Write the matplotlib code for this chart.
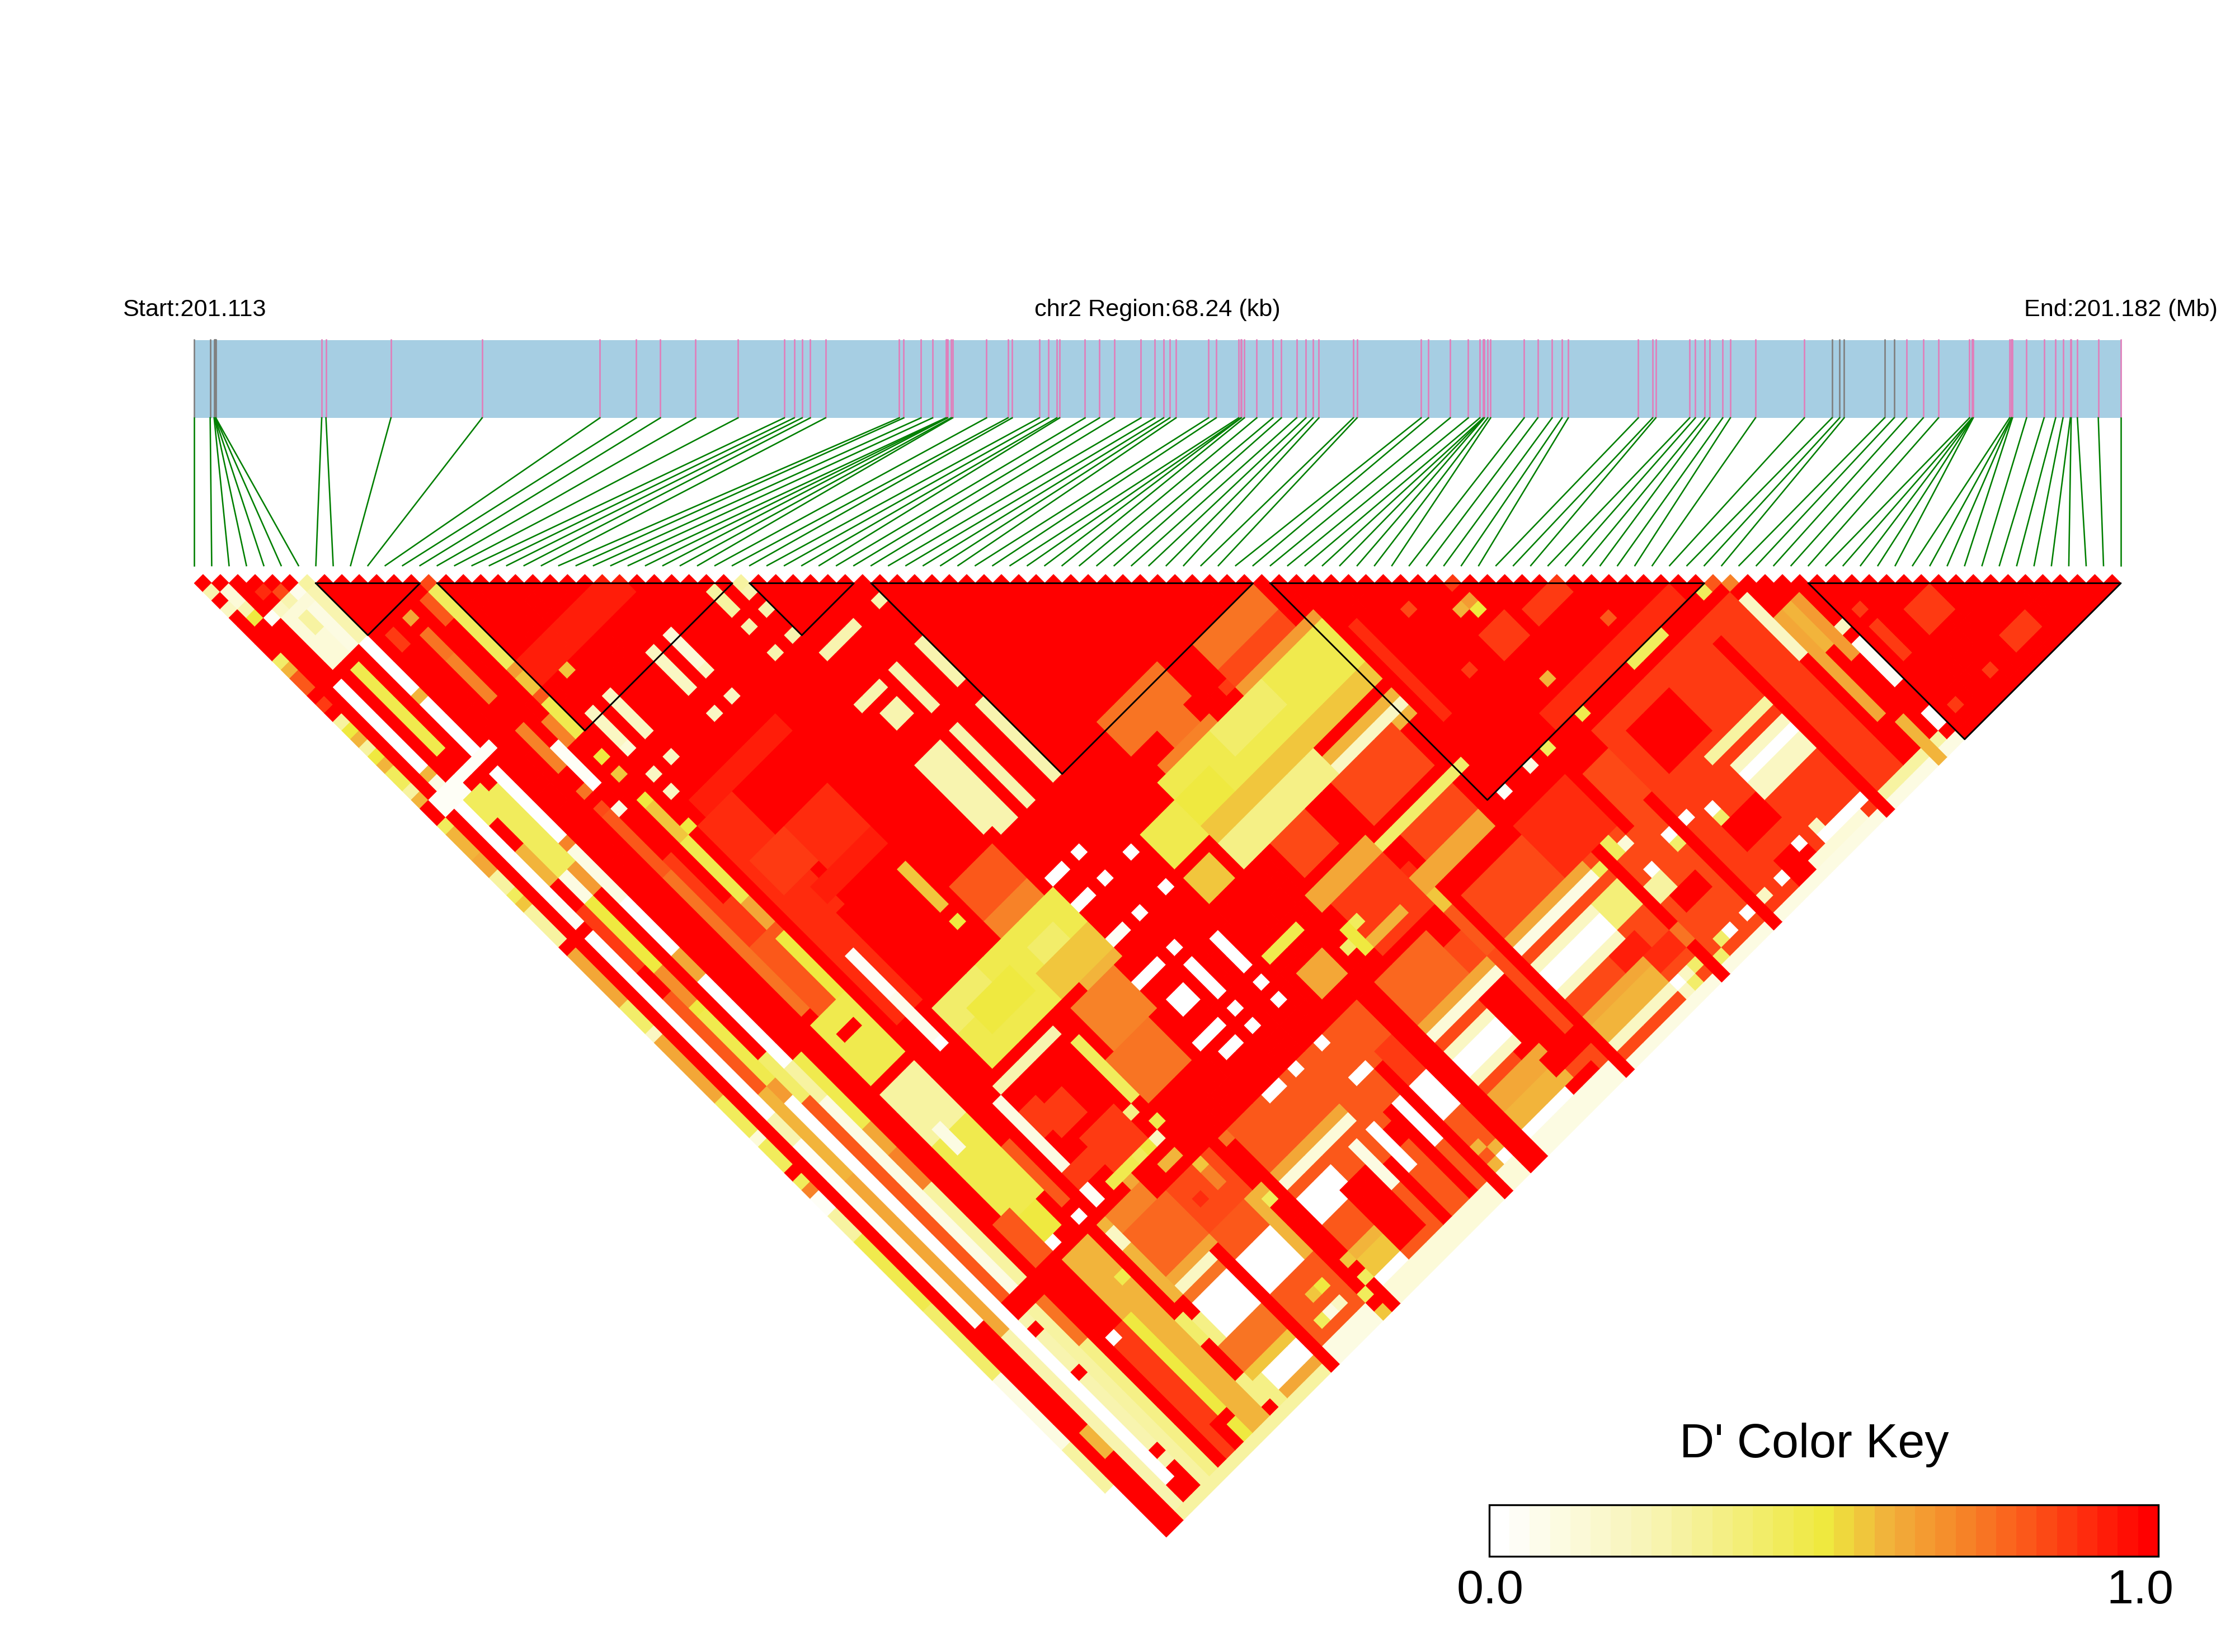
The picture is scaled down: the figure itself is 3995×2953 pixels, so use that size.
import numpy as np
import matplotlib
matplotlib.use("Agg")
import matplotlib.pyplot as plt
from matplotlib.collections import PolyCollection
from matplotlib.colors import LinearSegmentedColormap, BoundaryNorm
from matplotlib.patches import Rectangle

plt.rcParams["font.family"] = ["Liberation Sans", "DejaVu Sans"]

# SNP positions along the region, kb from the start
snp_kb = [0.00, 0.56, 0.70, 0.72, 0.73, 0.75, 0.76, 4.51, 4.66, 6.96, 10.19, 14.36, 15.65, 16.50, 17.75, 19.25,
          20.89, 21.24, 21.52, 21.81, 22.35, 24.96, 25.12, 25.73, 26.14, 26.61, 26.64, 26.67, 26.80, 26.85,
          28.05, 28.81, 28.96, 29.92, 30.25, 30.54, 30.64, 31.54, 32.05, 32.58, 33.52, 34.01, 34.32, 34.54,
          34.76, 35.91, 36.18, 36.98, 37.06, 37.07, 37.18, 37.62, 38.19, 38.49, 39.03, 39.36, 39.61, 39.82,
          41.04, 41.17, 43.44, 43.70, 44.47, 45.11, 45.52, 45.64, 45.66, 45.68, 45.80, 45.90, 47.09, 47.57,
          48.08, 48.43, 48.65, 51.13, 51.64, 51.75, 52.95, 53.15, 53.48, 53.65, 54.12, 54.39, 55.28, 57.01,
          57.99, 58.26, 58.42, 59.85, 60.19, 60.63, 61.22, 61.76, 62.86, 62.95, 62.96, 62.98, 62.99, 64.28,
          64.34, 64.35, 64.38, 64.88, 65.50, 65.91, 66.17, 66.43, 66.46, 66.68, 67.42, 68.22]
gray_snps = [0, 1, 2, 3, 4, 5, 6, 86, 87, 88, 89, 90]

block_start = [7, 14, 32, 39, 62, 93]
block_end = [13, 31, 38, 61, 87, 111]

# D': first SNP range, second SNP range, value (later rows paint over earlier ones)
base_areas = [
    (45, 53, 94, 111, .82), (55, 71, 92, 111, .82), (72, 87, 90, 111, .85), (21, 42, 92, 111, .8),
    (3, 5, 92, 105, .3), (11, 13, 90, 111, .5), (14, 15, 90, 111, .35), (16, 19, 90, 99, .7), (16, 19, 104, 111, .75),
    (6, 7, 63, 95, .2), (3, 5, 63, 90, .62), (7, 9, 96, 111, .3),
]
corner_cells = [
    (0, 0, 2, 2, .25), (1, 1, 3, 3, .15), (3, 3, 5, 5, .88), (4, 4, 6, 6, .82), (5, 5, 7, 7, .08), (6, 6, 7, 7, .3),
    (1, 1, 4, 4, .15), (0, 0, 4, 4, .2), (1, 1, 5, 5, .25), (1, 1, 6, 6, .5), (4, 4, 7, 7, .25), (3, 3, 7, 7, .2),
    (2, 2, 7, 7, .05), (3, 5, 8, 13, .15), (6, 6, 8, 13, .25), (4, 4, 9, 10, .3), (5, 5, 9, 13, .1),
]
left_edge = [
    (0, 0, 10, 10, .4), (0, 0, 11, 11, .6), (0, 0, 12, 13, .8), (0, 0, 15, 15, .85), (0, 0, 17, 17, .3), (0, 0, 18, 18, .5),
    (0, 0, 19, 19, .6), (0, 0, 20, 20, .3), (0, 0, 21, 21, .5), (0, 0, 22, 22, .6), (0, 0, 23, 24, .45), (0, 0, 25, 25, .3),
    (0, 0, 26, 26, .6), (0, 0, 29, 29, .45), (0, 0, 30, 32, .6), (0, 0, 33, 34, .62), (0, 0, 35, 36, .3), (0, 0, 37, 37, .45),
    (0, 0, 38, 38, .55), (0, 0, 39, 42, .3), (0, 0, 44, 50, .62), (0, 0, 50, 52, .42), (0, 0, 53, 53, .2), (0, 0, 54, 60, .62),
    (0, 0, 61, 64, .45), (0, 0, 65, 65, .15), (0, 0, 66, 68, .45), (0, 0, 70, 70, .45), (0, 0, 71, 71, .7), (0, 0, 72, 73, .05),
    (0, 0, 74, 76, .3), (0, 0, 77, 84, .47), (0, 0, 85, 92, .42), (0, 0, 93, 100, .1), (0, 0, 101, 105, .3), (0, 0, 106, 111, .02),
]
low_i_bands = [
    (2, 2, 15, 24, .03), (2, 2, 25, 25, .6), (2, 2, 26, 28, .1), (2, 2, 29, 39, .02), (2, 2, 40, 42, .05), (2, 2, 44, 64, .02),
    (2, 2, 65, 67, .25), (2, 2, 68, 88, .06), (3, 3, 29, 31, .45), (3, 3, 35, 38, .6), (3, 3, 42, 48, .85), (3, 3, 52, 62, .8),
    (3, 3, 63, 72, .6), (3, 3, 73, 90, .63), (4, 4, 15, 24, .48), (4, 4, 29, 38, .45), (4, 4, 39, 41, .1), (4, 4, 42, 50, .5),
    (4, 4, 50, 53, .68), (4, 4, 54, 54, .5), (4, 4, 55, 62, .47), (4, 4, 63, 64, .65), (4, 4, 65, 90, .03), (5, 5, 30, 38, .45),
    (5, 5, 39, 41, .65), (5, 5, 44, 60, 1), (5, 5, 61, 65, .4), (5, 5, 66, 90, .8), (6, 6, 14, 19, 0), (6, 6, 20, 20, .6),
    (6, 6, 21, 26, 0), (6, 6, 29, 36, .03), (6, 6, 37, 37, .7), (6, 6, 38, 43, .1), (6, 6, 44, 49, 0), (6, 6, 50, 52, .62),
    (6, 6, 53, 53, 0), (6, 6, 54, 62, .02), (6, 6, 63, 66, .3), (6, 6, 67, 88, .1), (7, 7, 29, 33, .97), (7, 7, 44, 62, 1),
    (7, 7, 63, 70, .47), (7, 7, 71, 73, .62), (7, 7, 74, 77, .72), (7, 7, 78, 88, .3), (7, 7, 91, 95, .75),
    (1, 7, 27, 27, .05), (1, 3, 28, 28, .05), (8, 9, 52, 96, 1), (8, 8, 97, 111, 1), (9, 9, 97, 111, .85), (10, 10, 97, 107, .85),
    (3, 3, 91, 111, .25), (4, 4, 91, 108, .02), (5, 5, 91, 108, .25), (6, 6, 91, 111, .3), (7, 7, 96, 111, .35), (2, 2, 101, 103, .6),
    (5, 7, 89, 90, 1), (5, 5, 92, 92, 1), (5, 5, 97, 97, 1), (5, 5, 106, 106, 1), (5, 5, 108, 108, 1), (1, 2, 89, 100, 1),
    (2, 2, 104, 105, 1), (1, 1, 101, 111, 1),
]
mid_i_bands = [
    (13, 13, 14, 14, .85), (13, 13, 15, 23, .45), (13, 13, 24, 24, .65), (13, 13, 25, 26, .55), (13, 13, 27, 27, .8),
    (13, 13, 28, 31, .48), (13, 13, 34, 34, .5), (13, 13, 36, 36, .55), (13, 13, 39, 39, .5), (13, 13, 40, 43, .55),
    (13, 13, 44, 50, .48), (13, 13, 51, 53, .62), (13, 13, 54, 63, .5), (11, 11, 31, 34, .05),
    (11, 11, 35, 35, .02), (11, 11, 38, 38, .1), (10, 10, 15, 15, .62), (10, 10, 17, 19, .75), (10, 10, 20, 24, .72),
    (10, 10, 28, 32, .72), (10, 10, 35, 35, .75), (10, 10, 37, 37, .82), (10, 10, 38, 44, .8), (10, 10, 45, 60, .75),
    (12, 12, 15, 17, .8), (12, 12, 29, 31, .72), (8, 8, 15, 16, .85), (11, 11, 44, 50, .85), (11, 12, 50, 53, .85),
    (11, 13, 54, 54, .8), (11, 12, 54, 61, .8), (15, 18, 44, 56, .88), (16, 19, 49, 52, .85), (15, 17, 55, 66, .88),
    (14, 24, 24, 26, .93), (16, 16, 27, 27, .55), (16, 25, 42, 43, .92), (20, 24, 49, 53, .9), (18, 24, 54, 55, .92),
    (26, 30, 62, 65, .8), (26, 30, 66, 67, .72), (24, 24, 58, 62, .55), (24, 24, 64, 64, .5),
    (10, 13, 62, 68, .47), (11, 12, 64, 64, 1), (9, 15, 69, 69, 1), (10, 13, 70, 75, .3), (10, 13, 76, 84, .47), (11, 11, 75, 77, .12),
    (10, 12, 85, 87, .5), (9, 10, 84, 88, .8), (14, 14, 70, 79, 1), (14, 14, 80, 86, .8), (14, 14, 87, 99, 1), (15, 15, 99, 100, 1),
    (16, 16, 60, 65, .05), (16, 16, 65, 69, .08), (16, 16, 70, 70, .02), (18, 31, 68, 74, .46), (26, 31, 72, 74, .55),
    (18, 22, 68, 70, .4), (20, 24, 70, 72, .5), (27, 29, 70, 71, .4), (17, 23, 77, 84, 1),
    (18, 20, 80, 82, .85), (17, 23, 76, 76, .25), (17, 23, 85, 85, .35), (24, 24, 78, 84, .45), (16, 16, 77, 85, .12), (16, 16, 85, 88, .05),
    (17, 18, 79, 81, .85), (26, 30, 76, 80, .72), (25, 29, 81, 85, .75), (28, 31, 75, 75, .6), (15, 15, 40, 40, .2), (14, 14, 43, 43, .5),
    (19, 22, 84, 87, .85), (16, 19, 85, 86, .85), (18, 20, 88, 88, .47), (19, 19, 89, 89, .62), (24, 24, 87, 87, .47),
    (23, 23, 88, 88, .2), (22, 22, 88, 88, .5), (21, 21, 88, 88, .45), (22, 23, 90, 90, .6),
    (13, 13, 88, 88, 1), (12, 12, 88, 88, 1), (14, 14, 88, 88, 0), (11, 11, 88, 88, 0), (8, 14, 89, 89, 1),
]
lattice_spots = [
    (38, 38, 41, 41, .25), (35, 35, 41, 41, .25), (32, 34, 41, 41, .25), (31, 31, 38, 38, .25), (29, 29, 38, 38, .25),
    (31, 31, 33, 33, .25), (31, 31, 35, 35, .25), (29, 29, 35, 35, .25), (29, 29, 31, 33, .3), (24, 24, 31, 34, .15),
    (22, 22, 31, 34, .2), (24, 24, 35, 35, .2), (22, 22, 35, 35, .2), (24, 24, 38, 38, .2), (22, 22, 38, 38, .2),
    (17, 17, 31, 34, .2), (15, 15, 31, 34, .2), (17, 17, 35, 35, .2), (15, 15, 35, 35, .15), (17, 17, 38, 38, .2), (15, 15, 38, 38, .2),
    (38, 38, 46, 46, .25), (35, 35, 46, 46, .25), (38, 38, 47, 50, .25), (35, 35, 47, 50, .25), (31, 33, 46, 46, .25),
    (32, 33, 48, 49, .25), (38, 38, 53, 53, .25), (35, 35, 53, 53, .25), (38, 38, 54, 60, .25), (31, 33, 53, 53, .25),
    (35, 35, 54, 60, .25), (38, 38, 61, 61, .25), (31, 33, 54, 60, .27), (35, 35, 61, 61, .25), (32, 33, 61, 61, .25),
    (35, 35, 67, 67, 0), (32, 33, 67, 67, 0), (38, 38, 70, 70, 0), (35, 35, 70, 70, 0), (32, 33, 70, 70, 0), (35, 35, 74, 74, 0),
    (38, 38, 74, 74, 0), (32, 33, 74, 74, .05), (31, 33, 78, 78, 0), (35, 35, 78, 78, 0), (32, 33, 81, 82, 0), (35, 35, 80, 83, 0),
    (38, 38, 80, 83, 0), (31, 33, 85, 85, 0), (35, 35, 85, 85, 0), (38, 38, 85, 85, 0), (32, 33, 87, 87, 0), (35, 35, 87, 87, 0),
    (38, 38, 87, 87, 0), (35, 35, 92, 92, 0), (32, 33, 92, 92, 0), (38, 38, 92, 92, 0), (44, 44, 94, 94, 0), (16, 16, 92, 92, 0),
    (9, 9, 97, 97, 0),
]
lower_right = [
    (11, 11, 92, 111, .5), (11, 11, 108, 108, 1), (12, 13, 97, 111, .6), (11, 13, 90, 96, .58), (13, 13, 94, 94, .47), (15, 15, 90, 98, .58),
    (15, 15, 91, 92, .2), (14, 14, 100, 102, .4), (14, 14, 103, 106, 1), (14, 14, 110, 110, 1), (15, 19, 104, 106, .75),
    (15, 19, 107, 107, .55), (16, 19, 108, 109, .03), (16, 19, 110, 110, .62), (16, 20, 92, 96, .78), (16, 20, 97, 97, .62),
    (16, 19, 98, 98, .2), (16, 19, 99, 99, .75), (16, 20, 100, 103, .03), (21, 24, 100, 103, .03), (21, 25, 92, 96, .82),
    (21, 25, 104, 109, .8), (24, 24, 106, 106, .5), (23, 23, 106, 106, .55), (24, 24, 108, 108, .2), (23, 23, 108, 108, .1),
    (22, 22, 108, 108, .45), (22, 22, 94, 94, .88), (25, 25, 97, 103, .6), (24, 24, 92, 92, .55), (24, 24, 93, 94, .72),
    (28, 33, 93, 96, .8), (28, 35, 97, 97, .62), (28, 35, 98, 98, .15), (28, 30, 100, 102, .03), (28, 30, 103, 105, .8),
    (28, 30, 106, 106, .58), (28, 30, 107, 108, .55), (28, 30, 109, 109, .03), (31, 33, 102, 108, 1), (32, 34, 102, 102, 1),
    (35, 35, 103, 109, 1), (38, 38, 100, 110, 1), (37, 38, 101, 102, 1), (36, 36, 100, 104, .03), (39, 39, 100, 104, .03),
    (34, 34, 100, 104, .1), (30, 31, 100, 101, .03), (41, 42, 96, 99, .85), (41, 42, 100, 103, .03), (41, 43, 104, 111, .8),
    (41, 41, 107, 107, .6), (41, 41, 109, 109, .58), (42, 42, 108, 108, .6), (42, 42, 109, 109, .02), (38, 39, 96, 96, .02),
    (45, 50, 92, 96, .78), (45, 52, 97, 97, .62), (45, 52, 98, 98, .15), (50, 52, 99, 102, 1), (49, 52, 103, 105, 1),
    (45, 49, 100, 100, .2), (45, 49, 101, 102, .02), (45, 49, 103, 103, .2), (45, 50, 105, 106, .62), (45, 50, 107, 108, .6),
    (45, 50, 109, 109, .03), (50, 52, 109, 110, 1), (50, 53, 106, 107, 1), (53, 53, 92, 96, .8),
    (55, 63, 97, 97, .62), (55, 63, 98, 98, .12), (55, 61, 100, 101, .2), (55, 61, 101, 102, .02), (55, 61, 103, 103, .2),
    (62, 64, 100, 102, .38), (55, 61, 106, 106, .62), (55, 61, 107, 108, .6), (55, 61, 109, 109, .2), (60, 62, 104, 105, .92),
    (62, 64, 106, 107, .9), (64, 64, 109, 109, .42), (63, 63, 109, 109, .2), (62, 62, 109, 109, .02), (63, 63, 110, 110, .4),
    (62, 62, 110, 110, .2), (62, 67, 91, 96, .88), (66, 66, 97, 98, .45), (67, 67, 98, 98, .15), (64, 64, 98, 98, .45),
    (67, 67, 101, 101, 0), (66, 67, 102, 103, .3), (67, 69, 104, 105, 1), (68, 68, 109, 109, 0), (67, 67, 109, 109, .4),
    (70, 70, 109, 109, 0), (66, 66, 110, 110, .4), (70, 70, 100, 100, 0), (70, 70, 101, 101, .4), (72, 72, 100, 100, 0),
    (74, 74, 101, 101, 0), (74, 74, 102, 102, .4), (75, 75, 103, 103, .2), (74, 77, 103, 105, 1), (75, 77, 108, 110, 1),
    (78, 78, 102, 102, .1), (74, 74, 109, 109, 0), (72, 72, 109, 109, .2), (77, 77, 108, 108, 0), (79, 79, 108, 108, .2),
    (78, 80, 110, 110, .35),
    (3, 19, 111, 111, .3), (21, 25, 110, 111, .12), (28, 42, 110, 111, .15), (45, 53, 110, 111, .12), (55, 70, 111, 111, .12),
    (72, 83, 111, 111, .1), (85, 92, 111, 111, .12), (85, 91, 110, 110, .3),
]
right_bands = [
    (54, 60, 62, 64, .75), (54, 60, 65, 67, .82), (54, 62, 67, 68, .65), (44, 50, 61, 64, .75), (47, 49, 65, 66, .75),
    (45, 50, 67, 68, .72), (53, 53, 66, 66, .85), (53, 53, 68, 68, .6), (44, 62, 68, 72, .46), (44, 47, 70, 72, .5), (50, 55, 68, 70, .42),
    (44, 62, 73, 74, .55), (55, 62, 76, 76, .6), (55, 62, 77, 77, .2), (55, 62, 78, 78, .6), (44, 54, 75, 77, .35), (54, 60, 78, 82, .82), (47, 50, 78, 81, .82),
    (40, 43, 70, 73, .48), (40, 42, 75, 77, .55), (40, 43, 84, 84, .47), (41, 43, 87, 89, .62), (46, 52, 83, 84, .62), (53, 62, 84, 84, .42),
    (46, 48, 87, 89, .5), (47, 52, 85, 90, .85), (47, 47, 87, 87, .45), (47, 50, 89, 89, .6), (45, 45, 88, 88, .4), (53, 53, 87, 90, .9),
    (53, 53, 90, 91, .55), (55, 60, 85, 87, .82), (60, 60, 88, 88, .47), (53, 60, 88, 89, .62),
    (63, 63, 88, 88, .05), (66, 66, 88, 88, .1), (68, 68, 88, 88, .45), (72, 72, 88, 88, .48), (78, 81, 88, 88, .45), (86, 86, 88, 88, .45),
    (77, 84, 98, 98, .3), (78, 83, 100, 100, .2), (78, 83, 101, 101, 0), (78, 83, 102, 103, .2), (79, 83, 109, 109, .03),
    (77, 82, 110, 110, .15), (74, 78, 92, 96, 1), (88, 88, 91, 97, .2), (89, 89, 94, 105, .62),
    (90, 90, 94, 98, .6), (91, 91, 94, 100, .65), (92, 92, 98, 98, .2), (92, 92, 100, 104, .04), (92, 92, 108, 109, .03),
    (90, 90, 107, 111, .6),
    (84, 84, 92, 111, 1), (71, 71, 97, 111, 1), (68, 68, 92, 97, 1), (65, 65, 97, 105, 1), (65, 65, 106, 107, .75), (65, 65, 108, 111, 1),
    (54, 54, 92, 111, 1), (43, 44, 94, 111, 1), (40, 40, 97, 111, 1), (26, 27, 92, 111, 1), (20, 20, 98, 111, 1),
    (27, 27, 92, 92, .75), (26, 26, 97, 97, .6), (26, 26, 98, 98, .45), (27, 27, 106, 106, .55), (27, 27, 108, 108, .45),
    (26, 26, 109, 109, .45), (26, 26, 111, 111, .55),
]
block_spots = [
    (68, 68, 72, 72, .82), (72, 72, 75, 75, .65), (72, 72, 76, 76, .5), (71, 71, 75, 75, .6), (75, 78, 79, 80, .85),
    (79, 79, 84, 84, .8), (71, 73, 78, 80, .85), (72, 72, 84, 84, .6), (68, 68, 79, 79, .85), (64, 64, 70, 80, .9),
    (70, 84, 86, 87, .9), (94, 94, 98, 98, .85), (97, 99, 101, 103, .85), (101, 103, 108, 109, .85), (94, 94, 100, 103, .85),
    (98, 98, 109, 109, .85), (94, 94, 109, 109, .85),
]
top_row = [(13, 13, 14, 14, .82), (31, 31, 32, 32, .3), (72, 72, 73, 73, .85), (87, 87, 88, 88, .8), (88, 88, 89, 89, .7)]

# plain pixel-style coordinate system, same size as the target
W, H = 3995, 2953
X0, X1 = 347.4, 3791.0
Y_TOP = 1042.5
DY = 15.5
n = len(snp_kb)
dx = (X1 - X0) / (n - 1)

dprime = np.ones((n, n))
for rows in [base_areas, corner_cells, left_edge, low_i_bands, mid_i_bands, lattice_spots, lower_right, right_bands, block_spots, top_row]:
    for i0, i1, j0, j1, val in rows:
        dprime[i0:i1 + 1, j0:j1 + 1] = val

cmap = LinearSegmentedColormap.from_list("dprime", [
    (0, "#FFFFFF"), (.25, "#F8F4AE"), (.5, "#EFE93F"), (.6, "#F2B03B"), (.7, "#F68A2A"),
    (.8, "#FB5E1C"), (.9, "#FF2E0E"), (1, "#FF0000")])
norm = BoundaryNorm(np.linspace(0, 1, 34), cmap.N)

fig = plt.figure(figsize=(W / 300, H / 300), dpi=300)
ax = fig.add_axes([0, 0, 1, 1])
ax.set_xlim(0, W)
ax.set_ylim(H, 0)
ax.axis("off")

verts, vals = [], []
for i in range(n):
    for j in range(i + 1, n):
        cx = X0 + dx * (i + j) / 2
        cy = Y_TOP + DY * (j - i - 1)
        verts.append([(cx - dx / 2, cy), (cx, cy - DY), (cx + dx / 2, cy), (cx, cy + DY)])
        vals.append(dprime[i, j])
cells = PolyCollection(verts, array=np.array(vals), cmap=cmap, norm=norm, edgecolors="face", linewidths=0.3)
ax.add_collection(cells)

# haplotype blocks
for a, b in zip(block_start, block_end):
    xa, xb = X0 + dx * a, X0 + dx * b
    ax.plot([xa, xb, (xa + xb) / 2, xa], [Y_TOP, Y_TOP, Y_TOP + DY * (b - a), Y_TOP], color="black", lw=0.7)

# region bar, SNP ticks and connectors
ax.add_patch(Rectangle((X0, 608), X1 - X0, 139, fc="#A6CEE3", ec="none"))
for k, kb in enumerate(snp_kb):
    xt = X0 + (X1 - X0) * kb / snp_kb[-1]
    col = "#808080" if k in gray_snps else "#E07FBB"
    ax.plot([xt, xt], [606, 747], color=col, lw=0.65, solid_capstyle="butt")
    ax.plot([xt, X0 + dx * k], [747, 1011], color="#007F00", lw=0.62)

ax.text(X0, 565, "Start:201.113", ha="center", va="baseline", fontsize=10.4)
ax.text((X0 + X1) / 2, 565, "chr2 Region:68.24 (kb)", ha="center", va="baseline", fontsize=10.4)
ax.text(X1, 565, "End:201.182 (Mb)", ha="center", va="baseline", fontsize=10.4)

# colour key
ax.imshow(np.linspace(0, 1, 33)[None, :], extent=(2662, 3858, 2782, 2690), cmap=cmap, norm=norm, aspect="auto", interpolation="nearest")
ax.set_xlim(0, W)
ax.set_ylim(H, 0)
ax.add_patch(Rectangle((2662, 2690), 1196, 92, fc="none", ec="black", lw=0.8))
ax.text(3243, 2605, "D' Color Key", ha="center", va="baseline", fontsize=20.7)
ax.text(2664, 2866, "0.0", ha="center", va="baseline", fontsize=20.7)
ax.text(3825, 2866, "1.0", ha="center", va="baseline", fontsize=20.7)

fig.savefig("out.png", dpi=300)
